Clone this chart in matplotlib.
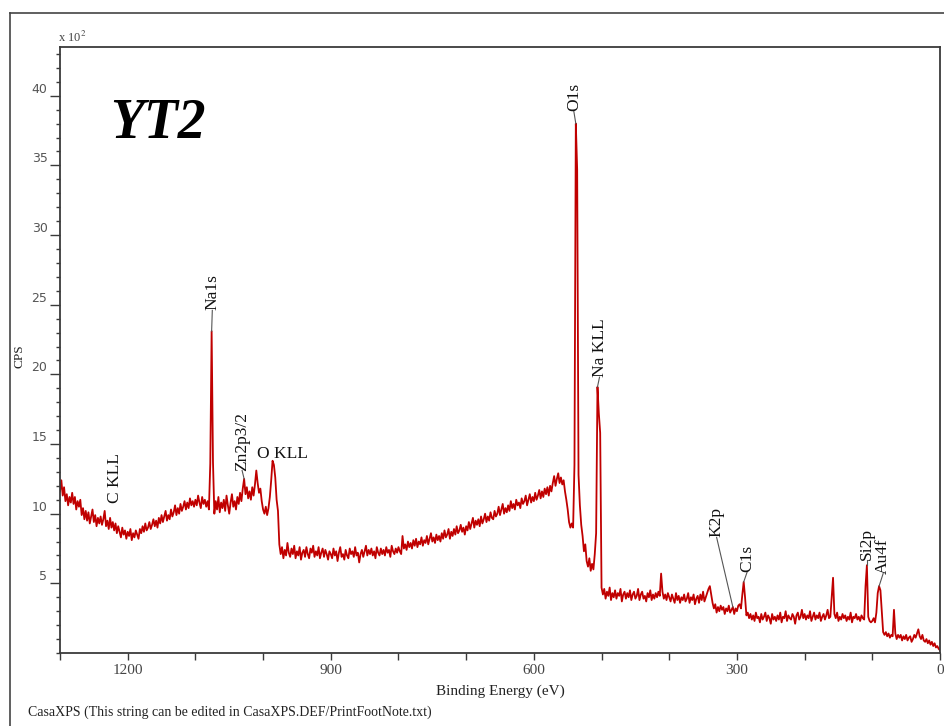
import numpy as np
import matplotlib
matplotlib.use("Agg")
import matplotlib.pyplot as plt
from matplotlib.lines import Line2D
from matplotlib.ticker import MultipleLocator, FixedLocator

plt.rcParams['mathtext.fontset'] = 'stix'

# survey scan, 1300 -> 0 eV in 2 eV steps, counts in units of 1e2 CPS
scan_start_ev = 1300
scan_step_ev = 2
cps_x100 = [
    # 1300
    11.6, 12.4, 11.3, 11.9, 10.9, 11.4, 10.6, 11.2, 10.8, 11.5,
    10.7, 11.2, 10.3, 10.9, 10.5, 11.0, 9.9, 10.4, 9.6, 10.2,
    # 1260
    9.5, 10.1, 9.3, 9.8, 10.3, 9.4, 9.9, 9.1, 9.7, 9.3,
    9.8, 9.2, 9.6, 10.2, 9.1, 9.5, 8.9, 9.7, 9.0, 9.4,
    # 1220
    8.8, 9.3, 8.6, 9.1, 8.7, 8.3, 9.0, 8.5, 8.8, 8.2,
    8.7, 8.4, 8.9, 8.1, 8.6, 8.3, 8.8, 8.5, 8.2, 8.9,
    # 1180
    8.6, 9.1, 8.7, 9.3, 8.8, 9.0, 9.4, 8.9, 9.2, 9.6,
    9.1, 9.5, 9.0, 9.7, 9.3, 9.9, 9.4, 9.8, 10.2, 9.5,
    # 1140
    9.9, 9.6, 10.3, 9.8, 10.1, 10.6, 9.9, 10.4, 10.0, 10.7,
    10.2, 10.5, 10.9, 10.3, 10.8, 10.4, 11.1, 10.6, 10.9, 10.5,
    # 1100
    11.0, 10.6, 11.3, 10.8, 10.4, 11.2, 10.7, 11.0, 10.5, 10.9,
    10.3, 13.6, 23.1, 13.7, 10.0, 10.9, 10.3, 11.2, 10.1, 10.8,
    # 1060
    10.4, 11.0, 10.2, 11.3, 10.6, 10.0, 10.8, 11.4, 10.5, 10.9,
    10.3, 11.2, 10.7, 11.5, 10.9, 11.8, 12.5, 11.4, 11.9, 11.1,
    # 1020
    11.6, 11.0, 11.9, 11.3, 12.1, 13.1, 12.2, 11.5, 11.8, 10.9,
    10.3, 10.0, 10.5, 9.9, 10.4, 11.2, 12.4, 13.8, 13.5, 12.6,
    # 980
    11.0, 10.2, 7.8, 7.1, 7.6, 6.8, 7.4, 7.0, 7.9, 7.2,
    6.9, 7.5, 7.1, 7.7, 6.8, 7.3, 7.0, 7.6, 6.7, 7.2,
    # 940
    7.4, 6.9, 7.6, 7.1, 6.8, 7.5, 7.2, 7.7, 6.9, 7.3,
    7.0, 7.6, 6.8, 7.2, 7.5, 6.9, 7.4, 7.1, 6.7, 7.3,
    # 900
    7.1, 6.8, 7.5, 7.0, 7.3, 6.6, 7.2, 7.6, 6.9, 7.1,
    6.7, 7.4, 7.0, 6.8, 7.5, 7.1, 7.3, 6.9, 7.6, 7.0,
    # 860
    7.2, 6.5, 7.1, 7.4, 6.9, 7.3, 7.7, 7.0, 7.4, 7.1,
    7.5, 7.0, 7.3, 6.8, 7.6, 7.2, 7.0, 7.5, 7.1, 7.4,
    # 820
    7.0, 7.6, 7.2, 7.4, 6.9, 7.7, 7.3, 7.1, 7.5, 7.2,
    7.6, 7.3, 7.1, 8.4, 7.5, 7.8, 7.4, 8.0, 7.6, 7.9,
    # 780
    7.5, 8.1, 7.7, 8.2, 7.6, 8.0, 7.8, 8.3, 7.7, 8.1,
    7.9, 8.4, 7.8, 8.2, 8.6, 8.0, 8.3, 7.9, 8.5, 8.1,
    # 740
    8.4, 8.0, 8.6, 8.2, 8.8, 8.3, 8.5, 8.9, 8.2, 8.7,
    8.4, 8.9, 8.5, 9.1, 8.6, 8.8, 9.2, 8.7, 9.0, 8.5,
    # 700
    9.1, 8.8, 9.4, 8.9, 9.3, 9.7, 9.0, 9.5, 9.2, 9.6,
    9.1, 9.8, 9.3, 9.6, 10.0, 9.4, 9.8, 9.5, 10.1, 9.7,
    # 660
    9.6, 10.2, 9.8, 10.0, 10.5, 9.9, 10.3, 10.7, 10.0, 10.4,
    10.1, 10.6, 10.2, 10.9, 10.4, 10.7, 10.3, 11.0, 10.6, 10.8,
    # 620
    10.4, 11.1, 10.7, 10.9, 11.3, 10.6, 11.0, 11.4, 10.8, 11.2,
    10.9, 11.5, 11.0, 11.3, 11.7, 11.1, 11.6, 11.2, 11.8, 11.4,
    # 580
    11.9, 11.3, 12.0, 11.6, 12.2, 12.7, 12.0, 12.5, 12.9, 12.2,
    12.6, 12.1, 12.4, 11.6, 11.0, 10.3, 9.4, 9.0, 9.3, 9.0,
    # 540
    13.5, 38.0, 34.7, 12.8, 10.6, 9.2, 8.4, 7.3, 7.8, 6.6,
    6.2, 6.8, 5.9, 6.4, 6.0, 7.1, 8.6, 19.1, 17.2, 15.8,
    # 500
    4.7, 4.2, 4.6, 3.9, 4.4, 4.1, 4.7, 3.8, 4.3, 4.0,
    4.5, 3.9, 4.3, 4.1, 4.6, 3.7, 4.2, 4.4, 3.9, 4.3,
    # 460
    4.0, 4.5, 3.8, 4.2, 4.4, 3.9, 4.1, 4.6, 3.8, 4.2,
    4.4, 3.9, 4.1, 3.7, 4.3, 4.0, 4.5, 3.8, 4.2, 3.9,
    # 420
    4.3, 4.0, 4.4, 4.1, 5.7, 4.4, 3.9, 4.2, 3.8, 4.3,
    4.0, 3.7, 4.2, 3.9, 3.6, 4.3, 3.8, 4.1, 3.6, 4.0,
    # 380
    3.8, 4.2, 3.7, 3.9, 4.3, 3.6, 4.0, 3.8, 4.2, 3.5,
    3.9, 4.1, 3.6, 4.2, 3.8, 4.4, 3.7, 4.0, 4.3, 4.6,
    # 340
    4.8, 4.2, 3.6, 3.2, 3.5, 2.9, 3.3, 3.0, 3.4, 3.1,
    3.3, 2.8, 3.2, 3.0, 3.4, 2.9, 3.1, 3.3, 2.8, 3.2,
    # 300
    3.0, 3.4, 3.5, 3.2, 4.2, 5.1, 4.0, 2.7, 2.9, 2.5,
    2.8, 2.4, 2.7, 2.3, 2.9, 2.5, 2.6, 2.2, 2.8, 2.4,
    # 260
    2.6, 2.9, 2.3, 2.7, 2.5, 2.1, 2.8, 2.4, 2.6, 2.3,
    2.7, 2.4, 2.9, 2.2, 2.6, 2.5, 3.0, 2.3, 2.7, 2.5,
    # 220
    2.4, 2.8, 2.6, 2.1, 2.7, 2.9, 2.4, 2.6, 3.1, 2.5,
    2.8, 2.4, 2.7, 2.5, 3.0, 2.3, 2.6, 2.9, 2.4, 2.7,
    # 180
    2.5, 2.9, 2.3, 2.6, 2.8, 2.4, 2.7, 3.1, 2.5, 2.6,
    4.0, 5.4, 2.8, 2.5, 2.9, 2.3, 2.6, 2.4, 2.8, 2.5,
    # 140
    2.7, 2.3, 2.6, 2.4, 2.9, 2.2, 2.6, 2.5, 2.8, 2.4,
    2.6, 2.3, 2.7, 2.5, 2.4, 4.8, 6.3, 2.6, 2.3, 2.2,
    # 100
    2.3, 2.5, 2.2, 2.9, 4.3, 4.8, 4.5, 3.0, 1.5, 1.3,
    1.5, 1.2, 1.4, 1.1, 1.3, 1.2, 3.1, 1.4, 1.0, 1.3,
    # 60
    1.1, 1.3, 0.9, 1.2, 1.0, 1.3, 0.9, 1.1, 1.2, 0.8,
    1.0, 1.3, 1.1, 1.4, 1.7, 1.2, 1.0, 1.3, 0.9, 0.8,
    # 20
    1.0, 0.7, 0.9, 0.6, 0.8, 0.5, 0.7, 0.4, 0.5, 0.3,
    0.2,
]
binding_energy = scan_start_ev - scan_step_ev * np.arange(len(cps_x100))

# peak identifications: name, peak energy, peak height (x1e2 CPS)
peak_names = ['Na1s', 'Zn2p3/2', 'O1s', 'Na KLL', 'K2p', 'C1s', 'Si2p', 'Au4f']
peak_be = [1076, 1028, 538, 506, 306, 290, 108, 90]
peak_cps = [23.1, 12.5, 38.0, 19.1, 3.3, 5.1, 6.3, 4.8]

x_ticks = [1200, 900, 600, 300, 0]
y_ticks = [5, 10, 15, 20, 25, 30, 35, 40]

serif = ['Liberation Serif', 'DejaVu Serif']
line_red = '#c00000'
frame_grey = '#3a3a3a'

fig = plt.figure(figsize=(9.44, 7.26), dpi=100)
ax = fig.add_axes([60 / 944, 73 / 726, 880 / 944, 606 / 726])

ax.plot(binding_energy, cps_x100, color=line_red, lw=1.3)

ax.set_xlim(1300, 0)
ax.set_ylim(0, 43.5)

ax.xaxis.set_major_locator(FixedLocator(x_ticks))
ax.xaxis.set_minor_locator(MultipleLocator(100))
ax.yaxis.set_major_locator(FixedLocator(y_ticks))
ax.yaxis.set_minor_locator(MultipleLocator(1))
ax.set_xticklabels([str(t) for t in x_ticks], fontfamily=serif, fontsize=11, color='#444444')
ax.set_yticklabels([str(t) for t in y_ticks], fontfamily='DejaVu Sans', fontsize=9, color='#555555')
for lbl in ax.get_yticklabels():
    lbl.set_va('bottom')

ax.tick_params(axis='x', which='both', direction='out', length=5, width=1.0,
               color=frame_grey, pad=3)
ax.tick_params(axis='y', which='major', direction='out', length=7, width=1.0,
               color=frame_grey, pad=2)
ax.tick_params(axis='y', which='minor', direction='out', length=3, width=1.0,
               color=frame_grey)
for sp in ax.spines.values():
    sp.set_color(frame_grey)
    sp.set_linewidth(1.3)

ax.set_xlabel('Binding Energy (eV)', fontfamily=serif, fontsize=11, color='#222222')
ax.xaxis.set_label_coords(0.5, -0.052)
ax.set_ylabel('CPS', fontfamily=serif, fontsize=9.5, color='#222222')
ax.yaxis.set_label_coords(-0.039, 0.49)

fig.text(58 / 944, 684 / 726, 'x 10$^2$', fontfamily=serif, fontsize=9, color='#444444',
         va='baseline', ha='left')

ax.text(1226, 37.0, 'YT2', fontfamily=serif, fontsize=40, fontweight='bold',
        fontstyle='italic', va='baseline', ha='left')

# labels: (label x in eV, label bottom in CPS) for each peak
label_spots = [(1075, 24.6), (1031, 13.1), (541, 38.9), (503, 19.8),
               (330, 8.3), (285, 5.8), (108, 6.65), (84, 5.7)]
for name, be, cps, (lx, ly) in zip(peak_names, peak_be, peak_cps, label_spots):
    ax.plot([be, lx], [cps, ly], color='#555555', lw=0.8)
    ax.text(lx, ly, name, rotation=90, ha='center', va='bottom',
            fontfamily=serif, fontsize=12.5, color='#111111')

ax.text(1219, 10.8, 'C KLL', rotation=90, ha='center', va='bottom',
        fontfamily=serif, fontsize=12.5, color='#111111')
ax.text(1009, 14.3, 'O KLL', ha='left', va='center',
        fontfamily=serif, fontsize=12.5, color='#111111')

fig.text(28 / 944, 14 / 726, 'CasaXPS (This string can be edited in CasaXPS.DEF/PrintFootNote.txt)',
         fontfamily=serif, fontsize=10, color='#222222', va='center', ha='left')

# outer page frame
fig.add_artist(Line2D([10 / 944, 10 / 944], [0, 713 / 726], color='#444444', lw=1.2))
fig.add_artist(Line2D([10 / 944, 1], [713 / 726, 713 / 726], color='#444444', lw=1.2))

fig.savefig('out.png', dpi=100)
